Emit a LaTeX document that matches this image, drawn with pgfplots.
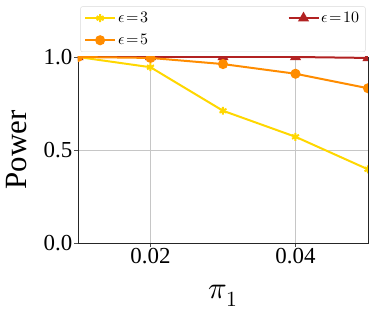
\documentclass[border=0pt]{standalone}
\usepackage{fontspec}
\setmainfont{Liberation Serif}
\usepackage{pgfplots}
\pgfplotsset{compat=1.18}
\usepackage{unicode-math}
\setmathfont{Latin Modern Math}
\definecolor{cgold}{RGB}{255,215,0}
\definecolor{corange}{RGB}{255,140,0}
\definecolor{cred}{RGB}{178,34,34}
\begin{document}
\begin{tikzpicture}
\begin{axis}[
  name=ax,
  scale only axis,
  width=290bp, height=186bp,
  xmin=0.01, xmax=0.05, ymin=0, ymax=1.0,
  scaled x ticks=false, scaled y ticks=false,
  xtick={0.02,0.04}, ytick={0,0.5,1.0},
  xticklabels={0.02,0.04}, yticklabels={0.0,0.5,1.0},
  grid=major,
  grid style={gray!45, line width=0.6pt},
  axis line style={black!85, line width=0.8pt},
  tick align=outside, major tick length=3.5bp,
  tick style={black!70, line width=0.6pt},
  xtick pos=bottom, ytick pos=left,
  ticklabel style={font=\fontsize{23}{23}\selectfont},
  xticklabel style={inner sep=2bp},
  yticklabel style={inner sep=2bp},
  xlabel={$\pi_1$}, ylabel={Power},
  label style={font=\fontsize{31}{31}\selectfont},
  xlabel style={at={(axis description cs:0.5,-0.301)}, anchor=base},
  ylabel style={at={(axis description cs:-0.179,0.5)}, anchor=base},
  clip mode=individual, clip marker paths=true,
  legend columns=2,
  legend image code/.code={\draw[mark repeat=2,mark phase=2] plot coordinates {(0bp,0bp) (15bp,0bp) (30bp,0bp)};},
  legend style={at={(axis description cs:0.5,1)}, anchor=south, yshift=5bp,
    draw=black!15, rounded corners=2pt,
    font=\fontsize{16}{16}\selectfont,
    nodes={inner sep=2bp},
    /tikz/every even column/.append style={column sep=137bp},
    inner sep=3.5bp, row sep=6bp},
  legend cell align=left,
]
\addplot[cgold, line width=2bp, mark=asterisk, mark size=4pt] coordinates {(0.01,1.0) (0.02,0.945) (0.03,0.711) (0.04,0.571) (0.05,0.396)};
\addlegendentry{$\epsilon\!=\!3$}
\addplot[cred, line width=2bp, mark=triangle*, mark size=4.5pt] coordinates {(0.01,1.0) (0.02,1.0) (0.03,1.0) (0.04,1.0) (0.05,0.995)};
\addlegendentry{$\epsilon\!=\!10$}
\addplot[corange, line width=2bp, mark=*, mark size=4bp] coordinates {(0.01,1.0) (0.02,0.995) (0.03,0.962) (0.04,0.910) (0.05,0.832)};
\addlegendentry{$\epsilon\!=\!5$}
\end{axis}
\pgfresetboundingbox
\path ([xshift=-78bp,yshift=-71bp]ax.south west) rectangle ([xshift=6bp,yshift=57bp]ax.north east);
\end{tikzpicture}
\end{document}
